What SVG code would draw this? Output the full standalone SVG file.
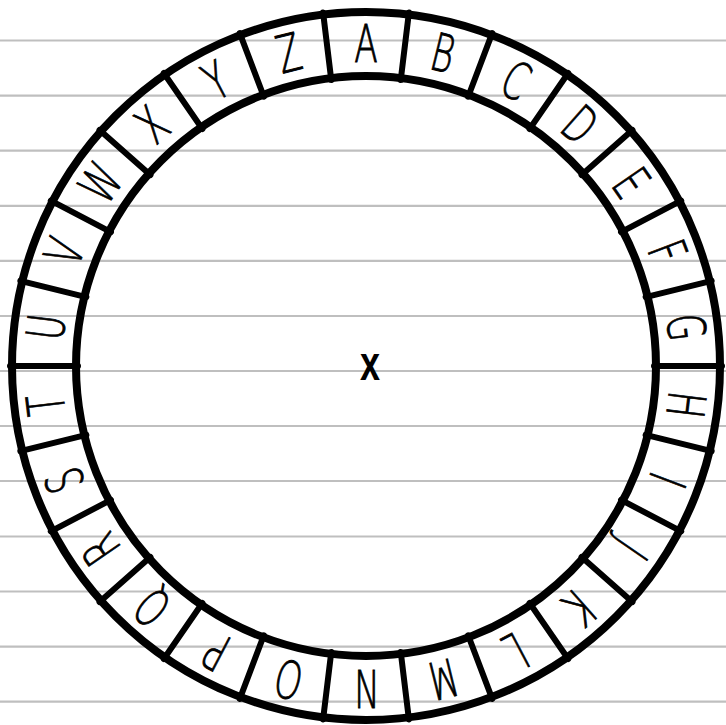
<svg xmlns="http://www.w3.org/2000/svg" width="726" height="725" viewBox="0 0 726 725">
<style>
.rule{stroke:#bfbfbf;stroke-width:2.2}
.ring{fill:none;stroke:#000;stroke-width:8}
.div{stroke:#000;stroke-width:6;stroke-linecap:round}
.lt{font-family:"DejaVu Sans","Liberation Sans",sans-serif;font-weight:200;font-size:52px;fill:#000;stroke:#000;stroke-width:0.9;text-anchor:middle}
.cx{font-family:"Liberation Sans","DejaVu Sans",sans-serif;font-weight:bold;font-size:48px;fill:#000;text-anchor:middle}
</style>
<rect x="0" y="0" width="726" height="725" fill="#fff"/>
<g id="ruled-lines">
<line class="rule" x1="0" y1="40.5" x2="726" y2="40.5"/>
<line class="rule" x1="0" y1="95.6" x2="726" y2="95.6"/>
<line class="rule" x1="0" y1="150.7" x2="726" y2="150.7"/>
<line class="rule" x1="0" y1="205.8" x2="726" y2="205.8"/>
<line class="rule" x1="0" y1="260.9" x2="726" y2="260.9"/>
<line class="rule" x1="0" y1="316" x2="726" y2="316"/>
<line class="rule" x1="0" y1="371" x2="726" y2="371"/>
<line class="rule" x1="0" y1="426" x2="726" y2="426"/>
<line class="rule" x1="0" y1="481" x2="726" y2="481"/>
<line class="rule" x1="0" y1="536.5" x2="726" y2="536.5"/>
<line class="rule" x1="0" y1="591.5" x2="726" y2="591.5"/>
<line class="rule" x1="0" y1="646.6" x2="726" y2="646.6"/>
<line class="rule" x1="0" y1="701.7" x2="726" y2="701.7"/>
</g>
<g id="wheel">
<circle class="ring" cx="366" cy="366" r="354"/>
<circle class="ring" cx="366" cy="366" r="290"/>
</g>
<g id="dividers">
<line class="div" x1="366" y1="10" x2="366" y2="78" transform="rotate(6.923 366 366)"/>
<line class="div" x1="366" y1="10" x2="366" y2="78" transform="rotate(20.769 366 366)"/>
<line class="div" x1="366" y1="10" x2="366" y2="78" transform="rotate(34.615 366 366)"/>
<line class="div" x1="366" y1="10" x2="366" y2="78" transform="rotate(48.462 366 366)"/>
<line class="div" x1="366" y1="10" x2="366" y2="78" transform="rotate(62.308 366 366)"/>
<line class="div" x1="366" y1="10" x2="366" y2="78" transform="rotate(76.154 366 366)"/>
<line class="div" x1="366" y1="10" x2="366" y2="78" transform="rotate(90 366 366)"/>
<line class="div" x1="366" y1="10" x2="366" y2="78" transform="rotate(103.846 366 366)"/>
<line class="div" x1="366" y1="10" x2="366" y2="78" transform="rotate(117.692 366 366)"/>
<line class="div" x1="366" y1="10" x2="366" y2="78" transform="rotate(131.538 366 366)"/>
<line class="div" x1="366" y1="10" x2="366" y2="78" transform="rotate(145.385 366 366)"/>
<line class="div" x1="366" y1="10" x2="366" y2="78" transform="rotate(159.231 366 366)"/>
<line class="div" x1="366" y1="10" x2="366" y2="78" transform="rotate(173.077 366 366)"/>
<line class="div" x1="366" y1="10" x2="366" y2="78" transform="rotate(186.923 366 366)"/>
<line class="div" x1="366" y1="10" x2="366" y2="78" transform="rotate(200.769 366 366)"/>
<line class="div" x1="366" y1="10" x2="366" y2="78" transform="rotate(214.615 366 366)"/>
<line class="div" x1="366" y1="10" x2="366" y2="78" transform="rotate(228.462 366 366)"/>
<line class="div" x1="366" y1="10" x2="366" y2="78" transform="rotate(242.308 366 366)"/>
<line class="div" x1="366" y1="10" x2="366" y2="78" transform="rotate(256.154 366 366)"/>
<line class="div" x1="366" y1="10" x2="366" y2="78" transform="rotate(270 366 366)"/>
<line class="div" x1="366" y1="10" x2="366" y2="78" transform="rotate(283.846 366 366)"/>
<line class="div" x1="366" y1="10" x2="366" y2="78" transform="rotate(297.692 366 366)"/>
<line class="div" x1="366" y1="10" x2="366" y2="78" transform="rotate(311.538 366 366)"/>
<line class="div" x1="366" y1="10" x2="366" y2="78" transform="rotate(325.385 366 366)"/>
<line class="div" x1="366" y1="10" x2="366" y2="78" transform="rotate(339.231 366 366)"/>
<line class="div" x1="366" y1="10" x2="366" y2="78" transform="rotate(353.077 366 366)"/>
</g>
<g id="letter-A" transform="rotate(0 366 366) translate(366 43) scale(0.66 1)"><text class="lt" x="0" y="19">A</text></g>
<g id="letter-B" transform="rotate(13.846 366 366) translate(366 43) scale(0.66 1)"><text class="lt" x="0" y="19">B</text></g>
<g id="letter-C" transform="rotate(27.692 366 366) translate(366 43) scale(0.66 1)"><text class="lt" x="0" y="19">C</text></g>
<g id="letter-D" transform="rotate(41.538 366 366) translate(366 43) scale(0.66 1)"><text class="lt" x="0" y="19">D</text></g>
<g id="letter-E" transform="rotate(55.385 366 366) translate(366 43) scale(0.66 1)"><text class="lt" x="0" y="19">E</text></g>
<g id="letter-F" transform="rotate(69.231 366 366) translate(366 43) scale(0.66 1)"><text class="lt" x="0" y="19">F</text></g>
<g id="letter-G" transform="rotate(83.077 366 366) translate(366 43) scale(0.66 1)"><text class="lt" x="0" y="19">G</text></g>
<g id="letter-H" transform="rotate(96.923 366 366) translate(366 43) scale(0.66 1)"><text class="lt" x="0" y="19">H</text></g>
<g id="letter-I" transform="rotate(110.769 366 366) translate(366 43) scale(0.66 1)"><text class="lt" x="0" y="19">I</text></g>
<g id="letter-J" transform="rotate(124.615 366 366) translate(366 43) scale(0.66 1)"><text class="lt" x="0" y="19">J</text></g>
<g id="letter-K" transform="rotate(138.462 366 366) translate(366 43) scale(0.66 1)"><text class="lt" x="0" y="19">K</text></g>
<g id="letter-L" transform="rotate(152.308 366 366) translate(366 43) scale(0.66 1)"><text class="lt" x="0" y="19">L</text></g>
<g id="letter-M" transform="rotate(166.154 366 366) translate(366 43) scale(0.66 1)"><text class="lt" x="0" y="19">M</text></g>
<g id="letter-N" transform="rotate(180 366 366) translate(366 43) scale(0.66 1)"><text class="lt" x="0" y="19">N</text></g>
<g id="letter-O" transform="rotate(193.846 366 366) translate(366 43) scale(0.66 1)"><text class="lt" x="0" y="19">O</text></g>
<g id="letter-P" transform="rotate(207.692 366 366) translate(366 43) scale(0.66 1)"><text class="lt" x="0" y="19">P</text></g>
<g id="letter-Q" transform="rotate(221.538 366 366) translate(366 43) scale(0.66 1)"><text class="lt" x="0" y="19">Q</text></g>
<g id="letter-R" transform="rotate(235.385 366 366) translate(366 43) scale(0.66 1)"><text class="lt" x="0" y="19">R</text></g>
<g id="letter-S" transform="rotate(249.231 366 366) translate(366 43) scale(0.66 1)"><text class="lt" x="0" y="19">S</text></g>
<g id="letter-T" transform="rotate(263.077 366 366) translate(366 43) scale(0.66 1)"><text class="lt" x="0" y="19">T</text></g>
<g id="letter-U" transform="rotate(276.923 366 366) translate(366 43) scale(0.66 1)"><text class="lt" x="0" y="19">U</text></g>
<g id="letter-V" transform="rotate(290.769 366 366) translate(366 43) scale(0.66 1)"><text class="lt" x="0" y="19">V</text></g>
<g id="letter-W" transform="rotate(304.615 366 366) translate(366 43) scale(0.66 1)"><text class="lt" x="0" y="19">W</text></g>
<g id="letter-X" transform="rotate(318.462 366 366) translate(366 43) scale(0.66 1)"><text class="lt" x="0" y="19">X</text></g>
<g id="letter-Y" transform="rotate(332.308 366 366) translate(366 43) scale(0.66 1)"><text class="lt" x="0" y="19">Y</text></g>
<g id="letter-Z" transform="rotate(346.154 366 366) translate(366 43) scale(0.66 1)"><text class="lt" x="0" y="19">Z</text></g>
<g id="center-mark" transform="translate(370 368) scale(0.75 1)"><text class="cx" x="0" y="12">x</text></g>
</svg>
